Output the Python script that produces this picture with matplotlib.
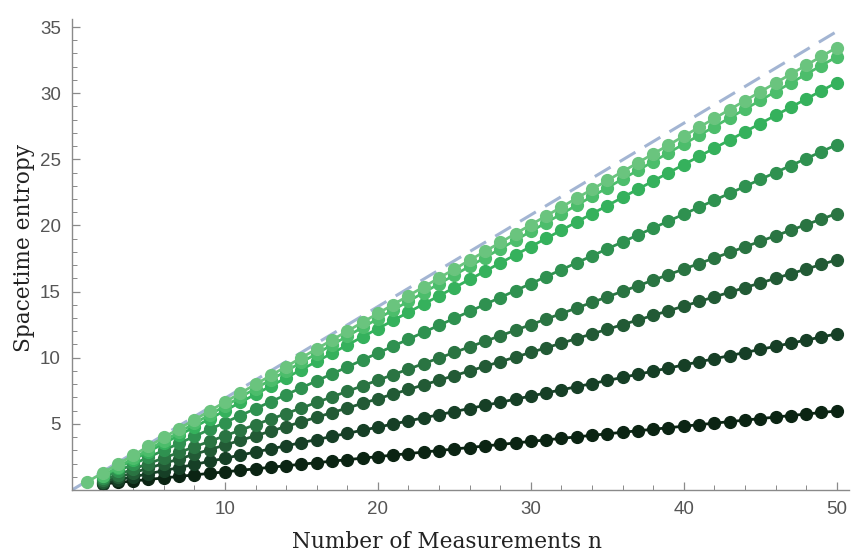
import numpy as np
import matplotlib
matplotlib.use("Agg")
import matplotlib.pyplot as plt
from matplotlib.ticker import MultipleLocator

# measurement counts
n_full = list(range(1, 51))
n_from2 = list(range(2, 51))

# series values, lightest (top) to darkest (bottom)
s1 = [0.62, 1.29, 1.96, 2.63, 3.30, 3.97, 4.64, 5.31, 5.98, 6.65,
      7.32, 7.99, 8.66, 9.33, 10.00, 10.67, 11.34, 12.01, 12.68, 13.35,
      14.02, 14.69, 15.36, 16.03, 16.70, 17.37, 18.04, 18.71, 19.38, 20.05,
      20.72, 21.39, 22.06, 22.73, 23.40, 24.07, 24.74, 25.41, 26.08, 26.75,
      27.42, 28.09, 28.76, 29.43, 30.10, 30.77, 31.44, 32.11, 32.78, 33.45]
s2 = [1.07, 1.73, 2.39, 3.05, 3.71, 4.37, 5.03, 5.69, 6.35, 7.01,
      7.67, 8.33, 8.99, 9.65, 10.31, 10.97, 11.63, 12.29, 12.95, 13.61,
      14.27, 14.93, 15.59, 16.25, 16.91, 17.57, 18.23, 18.89, 19.55, 20.21,
      20.87, 21.53, 22.19, 22.85, 23.51, 24.17, 24.83, 25.49, 26.15, 26.81,
      27.47, 28.13, 28.79, 29.45, 30.11, 30.77, 31.43, 32.09, 32.75]
s3 = [1.04, 1.66, 2.28, 2.90, 3.52, 4.14, 4.76, 5.38, 6.00, 6.62,
      7.24, 7.86, 8.48, 9.10, 9.72, 10.34, 10.96, 11.58, 12.20, 12.82,
      13.44, 14.06, 14.68, 15.30, 15.92, 16.54, 17.16, 17.78, 18.40, 19.02,
      19.64, 20.26, 20.88, 21.50, 22.12, 22.74, 23.36, 23.98, 24.60, 25.22,
      25.84, 26.46, 27.08, 27.70, 28.32, 28.94, 29.56, 30.18, 30.80]
s4 = [0.90, 1.43, 1.95, 2.48, 3.00, 3.53, 4.05, 4.58, 5.10, 5.63,
      6.15, 6.68, 7.20, 7.73, 8.25, 8.78, 9.30, 9.83, 10.35, 10.88,
      11.40, 11.93, 12.45, 12.98, 13.50, 14.03, 14.55, 15.08, 15.60, 16.13,
      16.65, 17.18, 17.70, 18.23, 18.75, 19.28, 19.80, 20.33, 20.85, 21.38,
      21.90, 22.43, 22.95, 23.48, 24.00, 24.53, 25.05, 25.58, 26.10]
s5 = [0.74, 1.16, 1.58, 2.00, 2.42, 2.84, 3.26, 3.68, 4.10, 4.52,
      4.94, 5.36, 5.78, 6.20, 6.62, 7.04, 7.46, 7.88, 8.30, 8.72,
      9.14, 9.56, 9.98, 10.40, 10.82, 11.24, 11.66, 12.08, 12.50, 12.92,
      13.34, 13.76, 14.18, 14.60, 15.02, 15.44, 15.86, 16.28, 16.70, 17.12,
      17.54, 17.96, 18.38, 18.80, 19.22, 19.64, 20.06, 20.48, 20.90]
s6 = [0.60, 0.95, 1.30, 1.65, 2.00, 2.35, 2.70, 3.05, 3.40, 3.75,
      4.10, 4.45, 4.80, 5.15, 5.50, 5.85, 6.20, 6.55, 6.90, 7.25,
      7.60, 7.95, 8.30, 8.65, 9.00, 9.35, 9.70, 10.05, 10.40, 10.75,
      11.10, 11.45, 11.80, 12.15, 12.50, 12.85, 13.20, 13.55, 13.90, 14.25,
      14.60, 14.95, 15.30, 15.65, 16.00, 16.35, 16.70, 17.05, 17.40]
s7 = [0.52, 0.76, 0.99, 1.23, 1.46, 1.70, 1.93, 2.17, 2.40, 2.64,
      2.87, 3.11, 3.34, 3.58, 3.81, 4.05, 4.28, 4.52, 4.75, 4.99,
      5.22, 5.46, 5.69, 5.93, 6.16, 6.40, 6.63, 6.87, 7.10, 7.34,
      7.57, 7.81, 8.04, 8.28, 8.51, 8.75, 8.98, 9.22, 9.45, 9.69,
      9.92, 10.16, 10.39, 10.63, 10.86, 11.10, 11.33, 11.57, 11.80]
s8 = [0.45, 0.57, 0.68, 0.80, 0.91, 1.03, 1.14, 1.26, 1.37, 1.49,
      1.60, 1.72, 1.83, 1.95, 2.06, 2.18, 2.29, 2.41, 2.52, 2.64,
      2.75, 2.87, 2.98, 3.10, 3.21, 3.33, 3.44, 3.56, 3.67, 3.79,
      3.90, 4.02, 4.13, 4.25, 4.36, 4.48, 4.59, 4.71, 4.82, 4.94,
      5.05, 5.17, 5.28, 5.40, 5.51, 5.63, 5.74, 5.86, 5.97]

# upper bound line (n ln 2)
bound_n = [0, 50]
bound_s = [0.0, 34.66]

series = [
    (n_from2, s8, "#0b2413"),
    (n_from2, s7, "#163f26"),
    (n_from2, s6, "#225a35"),
    (n_from2, s5, "#2a7442"),
    (n_from2, s4, "#2f9150"),
    (n_from2, s3, "#35b15c"),
    (n_from2, s2, "#4cbd6b"),
    (n_full, s1, "#6ac47e"),
]

fig = plt.figure(figsize=(8.51, 5.56), dpi=100)
ax = fig.add_axes([0.0846, 0.1187, 0.913, 0.847])

ax.plot(bound_n, bound_s, color="#a3b5d3", lw=2.2, dashes=(6, 3.5), zorder=1)
for i, (xs, ys, c) in enumerate(series):
    ax.plot(xs, ys, color=c, lw=2.0, marker="o", ms=8.5, mec=c, mfc=c, zorder=2 + i)

ax.set_xlim(0, 50.8)
ax.set_ylim(0, 35.6)
ax.xaxis.set_minor_locator(MultipleLocator(2))
ax.yaxis.set_minor_locator(MultipleLocator(1))
ax.set_xticks([10, 20, 30, 40, 50])
ax.set_yticks([5, 10, 15, 20, 25, 30, 35])

for side in ["top", "right"]:
    ax.spines[side].set_visible(False)
for side in ["left", "bottom"]:
    ax.spines[side].set_color("#8a8a8a")
    ax.spines[side].set_linewidth(1.0)

ax.tick_params(which="major", direction="in", length=6, width=0.9, color="#8a8a8a",
               labelsize=13.5, labelcolor="#555555", pad=8)
ax.tick_params(which="minor", direction="in", length=3.5, width=0.7, color="#8a8a8a")
for lbl in ax.get_xticklabels() + ax.get_yticklabels():
    lbl.set_family("Liberation Sans")

ax.set_xlabel("Number of Measurements n", fontsize=15.6, family="DejaVu Serif",
              color="#222222")
ax.set_ylabel("Spacetime entropy", fontsize=15.6, family="DejaVu Serif",
              color="#222222")
ax.xaxis.set_label_coords(0.483, -0.087)
ax.yaxis.set_label_coords(-0.047, 0.514)

fig.savefig("out.png", dpi=100)
plt.close(fig)
